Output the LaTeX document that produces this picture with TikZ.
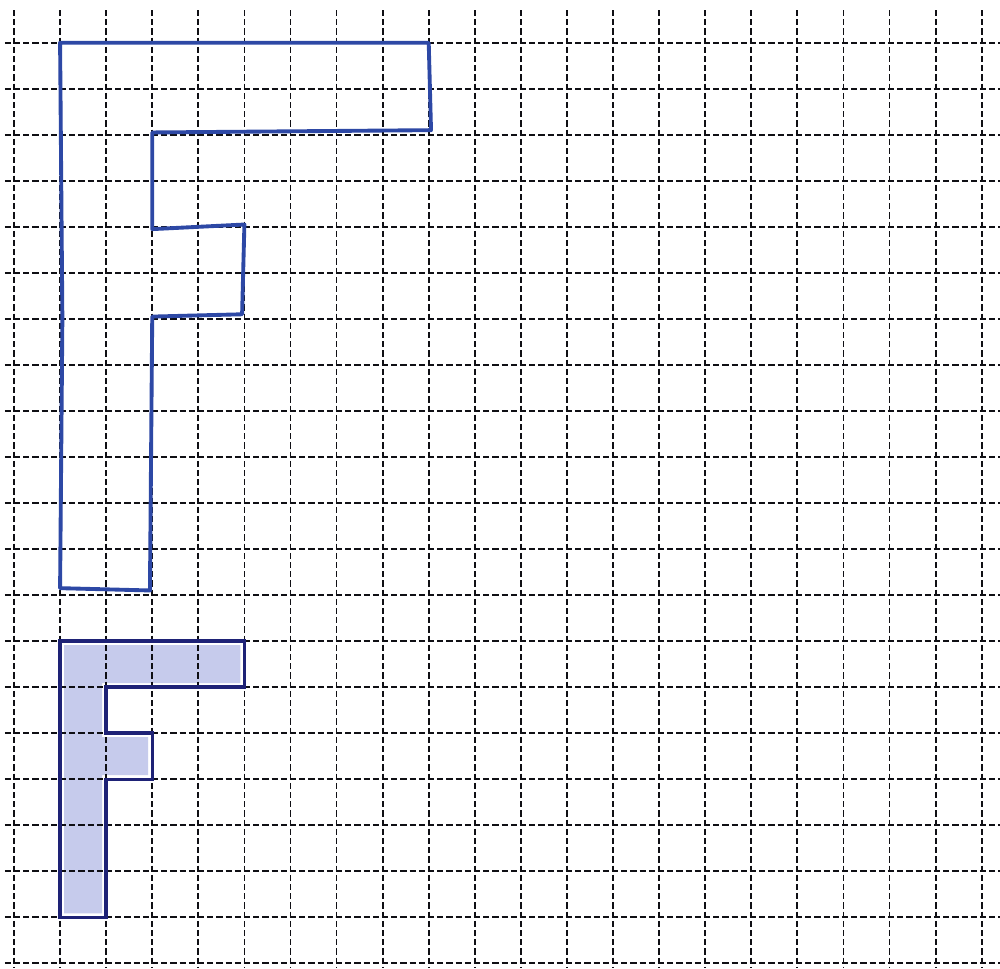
\documentclass[tikz,border=0pt]{standalone}
\definecolor{gridcol}{RGB}{15,15,20}
\definecolor{penblue}{RGB}{45,72,165}
\definecolor{navy}{RGB}{30,34,118}
\definecolor{lav}{RGB}{198,203,236}
\tikzset{
  gridline/.style={draw=gridcol, line width=1.35pt, dash pattern=on 4.6pt off 2.3pt},
  penline/.style={draw=penblue, line width=2.9pt, line join=round, line cap=round},
  printline/.style={draw=navy, line width=2.5pt, line join=miter},
  shade/.style={fill=lav}
}
\begin{document}
\begin{tikzpicture}[x=0.75pt,y=-0.75pt]
\useasboundingbox (0,0) rectangle (1000,968);
\fill[white] (0,0) rectangle (1000,968);
\begin{scope}[shift={(10.5pt,-32.025pt)}, x=34.56pt, y=-34.5225pt]
  % shaded F (inset fill)
  \def\d{0.087}
  \fill[shade] (1+\d,13+\d) -- (5-\d,13+\d) -- (5-\d,14-\d) -- (2-\d,14-\d)
    -- (2-\d,15+\d) -- (3-\d,15+\d) -- (3-\d,16-\d) -- (2-\d,16-\d)
    -- (2-\d,19-\d) -- (1+\d,19-\d) -- cycle;
  % grid
  \foreach \i in {0,...,21} \draw[gridline] (\i,-0.71) -- (\i,20.1);
  \foreach \j in {0,...,20} \draw[gridline] (-0.2,\j) -- (21.4,\j);
  % outlined F
  \draw[penline] (1,0) -- (9,0) -- (9.05,1.9) -- (3,1.95) -- (3,4.05) -- (5,3.95)
    -- (4.95,5.9) -- (3,5.95) -- (2.95,11.9) -- (1,11.85) -- (1.05,6) -- (1,0) -- cycle;
  % printed F outline
  \draw[printline] (1,13) -- (5,13) -- (5,14) -- (2,14) -- (2,15) -- (3,15)
    -- (3,16) -- (2,16) -- (2,19) -- (1,19) -- cycle;
\end{scope}
\end{tikzpicture}
\end{document}
